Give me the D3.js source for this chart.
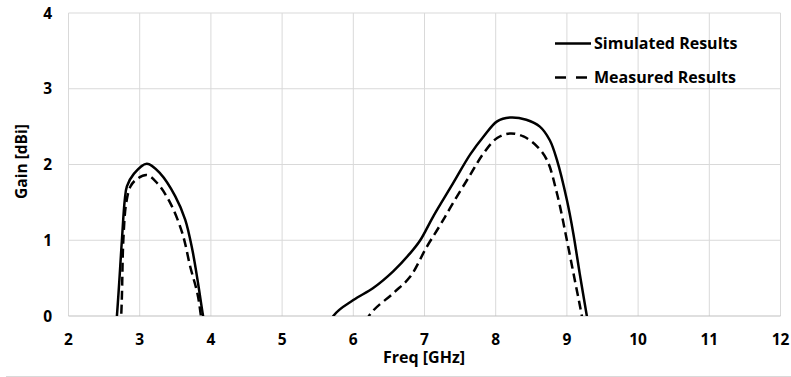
<!DOCTYPE html>
<html>
<head>
<meta charset="utf-8">
<script src="https://d3js.org/d3.v7.min.js"></script>
<style>
    body { margin: 0; background: #ffffff; }
    text { font-family: "Open Sans", "Noto Sans", sans-serif; font-weight: bold; fill: #000000; }
</style>
</head>
<body>
<div id="chart-area"></div>
<script>
/* Chart data */
var xTicks = [2, 3, 4, 5, 6, 7, 8, 9, 10, 11, 12];
var yTicks = [0, 1, 2, 3, 4];

/* Simulated results (points below 0 are clipped by the axis) */
var simFreq = [2.50, 2.68, 2.75, 2.79, 2.82, 2.92, 3.10, 3.29, 3.50, 3.64, 3.74, 3.82, 3.89, 4.00,
    5.50, 5.72, 6.00, 6.28, 6.56, 6.80, 6.94, 7.12, 7.40, 7.64, 7.83, 8.02, 8.20, 8.43, 8.62, 8.76,
    8.86, 9.00, 9.09, 9.18, 9.28, 9.40];
var simGain = [-2.0, 0, 1.00, 1.53, 1.71, 1.88, 2.01, 1.88, 1.58, 1.27, 0.87, 0.43, 0, -0.6,
    -0.6, 0, 0.21, 0.37, 0.59, 0.83, 1.00, 1.31, 1.75, 2.13, 2.37, 2.57, 2.62, 2.59, 2.50, 2.32,
    2.06, 1.53, 1.09, 0.56, 0, -0.7];

/* Measured results */
var measFreq = [2.60, 2.74, 2.77, 2.81, 2.87, 2.95, 3.10, 3.25, 3.43, 3.60, 3.71, 3.81, 3.86, 4.00,
    6.00, 6.22, 6.56, 6.80, 7.03, 7.22, 7.40, 7.64, 7.83, 8.02, 8.20, 8.39, 8.58, 8.72, 8.86, 9.00,
    9.12, 9.21, 9.35];
var measGain = [-2.0, 0, 1.00, 1.49, 1.71, 1.80, 1.86, 1.75, 1.49, 1.09, 0.65, 0.30, 0, -1.0,
    -0.6, 0, 0.30, 0.52, 0.91, 1.20, 1.49, 1.86, 2.15, 2.35, 2.41, 2.37, 2.24, 2.06, 1.62, 1.00,
    0.43, 0, -0.8];

var seriesNames = ["Simulated Results", "Measured Results"];

var width = 791;
var height = 377;

var svg = d3.select("#chart-area")
    .append("svg")
    .attr("width", width)
    .attr("height", height);

/* Scales for the plot area */
var x = d3.scaleLinear().domain([2, 12]).range([68.5, 780.5]);
var y = d3.scaleLinear().domain([0, 4]).range([316, 13]);

/* Clip so the lines stop at the 0 axis */
svg.append("defs").append("clipPath")
    .attr("id", "plot-clip")
    .append("rect")
    .attr("x", x(2))
    .attr("y", y(4) - 5)
    .attr("width", x(12) - x(2))
    .attr("height", y(0) - y(4) + 5);

/* Gridlines */
svg.append("g")
    .selectAll("line")
    .data(xTicks)
    .enter().append("line")
    .attr("x1", d => x(d))
    .attr("x2", d => x(d))
    .attr("y1", y(4))
    .attr("y2", y(0))
    .attr("stroke", "#d9d9d9")
    .attr("stroke-width", 1);

svg.append("g")
    .selectAll("line")
    .data(yTicks.filter(d => d > 0))
    .enter().append("line")
    .attr("x1", x(2))
    .attr("x2", x(12))
    .attr("y1", d => y(d))
    .attr("y2", d => y(d))
    .attr("stroke", "#d9d9d9")
    .attr("stroke-width", 1);

/* Horizontal axis line */
svg.append("line")
    .attr("x1", x(2))
    .attr("x2", x(12))
    .attr("y1", y(0))
    .attr("y2", y(0))
    .attr("stroke", "#bfbfbf")
    .attr("stroke-width", 1);

/* Tick labels */
svg.append("g")
    .selectAll("text")
    .data(xTicks)
    .enter().append("text")
    .attr("x", d => x(d))
    .attr("y", 344.5)
    .attr("text-anchor", "middle")
    .style("font-size", "15.5px")
    .text(d => d);

svg.append("g")
    .selectAll("text")
    .data(yTicks)
    .enter().append("text")
    .attr("x", 52)
    .attr("y", d => y(d))
    .attr("dy", "0.36em")
    .attr("text-anchor", "end")
    .style("font-size", "15.5px")
    .text(d => d);

/* Axis titles */
svg.append("text")
    .attr("x", 424)
    .attr("y", 363)
    .attr("text-anchor", "middle")
    .style("font-size", "16px")
    .text("Freq [GHz]");

svg.append("text")
    .attr("transform", "translate(27,161.5) rotate(-90)")
    .attr("text-anchor", "middle")
    .style("font-size", "15.5px")
    .text("Gain [dBi]");

/* Lines */
var line = d3.line()
    .x(d => x(d[0]))
    .y(d => y(d[1]))
    .curve(d3.curveCatmullRom.alpha(0.5));

var simData = d3.zip(simFreq, simGain);
var measData = d3.zip(measFreq, measGain);

var lines = svg.append("g").attr("clip-path", "url(#plot-clip)");

lines.append("path")
    .datum(simData)
    .attr("d", line)
    .attr("fill", "none")
    .attr("stroke", "#000000")
    .attr("stroke-width", 2.5);

lines.append("path")
    .datum(measData)
    .attr("d", line)
    .attr("fill", "none")
    .attr("stroke", "#000000")
    .attr("stroke-width", 2.5)
    .attr("stroke-dasharray", "9,5");

/* Legend */
var legend = svg.append("g")
    .selectAll("g")
    .data(seriesNames)
    .enter().append("g")
    .attr("transform", (d, i) => "translate(0," + (43.5 + i * 34) + ")");

legend.append("line")
    .attr("x1", 555)
    .attr("x2", 591)
    .attr("y1", 0)
    .attr("y2", 0)
    .attr("stroke", "#000000")
    .attr("stroke-width", 2.5)
    .attr("stroke-dasharray", (d, i) => i === 1 ? "11,10" : null);

legend.append("text")
    .attr("x", 594)
    .attr("y", 0)
    .attr("dy", "0.36em")
    .style("font-size", "16px")
    .text(d => d);

/* Thin separator at the bottom of the picture */
svg.append("line")
    .attr("x1", 6)
    .attr("x2", 791)
    .attr("y1", 376.5)
    .attr("y2", 376.5)
    .attr("stroke", "#d9d9d9")
    .attr("stroke-width", 1);
</script>
</body>
</html>
